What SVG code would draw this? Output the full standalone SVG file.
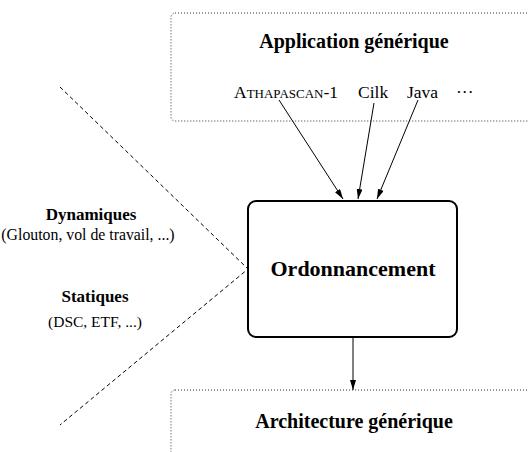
<svg xmlns="http://www.w3.org/2000/svg" width="529" height="452" viewBox="0 0 529 452" font-family="'Liberation Serif', 'DejaVu Serif', serif">
<defs>
<marker id="ah" viewBox="0 0 10 6" refX="10" refY="3" markerWidth="10" markerHeight="6" markerUnits="userSpaceOnUse" orient="auto">
<path d="M0,0 L10,3 L0,6 Z" fill="#000"/>
</marker>
</defs>
<style>
text{fill:#000}
.b{font-weight:bold}
.dot{fill:none;stroke:#333;stroke-width:1;stroke-dasharray:1 2}
.dash{fill:none;stroke:#000;stroke-width:1;stroke-dasharray:4 3}
.arr{fill:none;stroke:#000;stroke-width:1;marker-end:url(#ah)}
</style>
<rect width="529" height="452" fill="#fff"/>
<g id="app">
<rect class="dot" x="171" y="13" width="380" height="108" rx="4"/>
<text class="b" x="354" y="48" font-size="20" text-anchor="middle">Application générique</text>
<text x="234" y="98" font-size="17.5">A<tspan font-size="13">THAPASCAN</tspan>-1</text>
<text x="358" y="98" font-size="17.5">Cilk</text>
<text x="407" y="98" font-size="17.5">Java</text>
<text x="456" y="98" font-size="17.5">···</text>
</g>
<g id="arch">
<rect class="dot" x="171" y="390" width="380" height="100" rx="4"/>
<text class="b" x="354" y="428" font-size="20" text-anchor="middle">Architecture générique</text>
</g>
<g id="ord">
<rect x="248" y="201" width="209" height="136" rx="8" fill="#fff" stroke="#000" stroke-width="2"/>
<text class="b" x="353" y="276" font-size="22" text-anchor="middle">Ordonnancement</text>
</g>
<g id="dyn">
<text class="b" x="91" y="220" font-size="17" text-anchor="middle">Dynamiques</text>
<text x="88" y="240" font-size="15.8" text-anchor="middle">(Glouton, vol de travail, ...)</text>
</g>
<g id="stat">
<text class="b" x="95" y="302" font-size="17" text-anchor="middle">Statiques</text>
<text x="95" y="327" font-size="15.5" text-anchor="middle">(DSC, ETF, ...)</text>
</g>
<g id="connectors">
<line class="arr" x1="279" y1="100" x2="343" y2="199"/>
<line class="arr" x1="374" y1="103" x2="358" y2="199"/>
<line class="arr" x1="418" y1="100" x2="377" y2="199"/>
<line class="arr" x1="353" y1="338" x2="353" y2="390"/>
<polyline class="dash" points="60,87 248,269 60,425"/>
</g>
</svg>
